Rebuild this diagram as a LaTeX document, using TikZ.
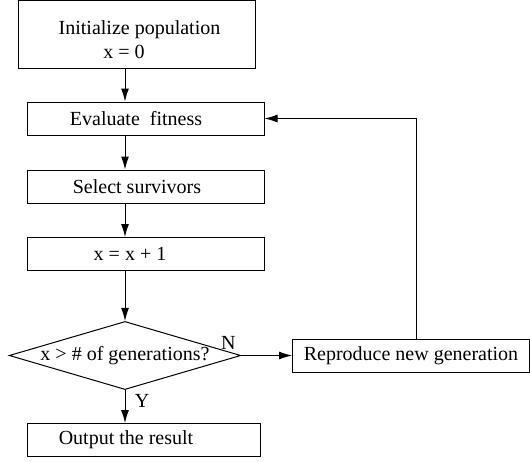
\documentclass[tikz,border=0pt]{standalone}
\usepackage{fontspec}
\setmainfont{Liberation Serif}
\usetikzlibrary{shapes.geometric,arrows.meta}
\begin{document}
\begin{tikzpicture}[x=0.5pt, y=-0.5pt, line width=0.5pt,
        >={Latex[length=6.5pt,width=4pt]},
        stepbox/.style={draw, minimum width=118.5pt, minimum height=16.5pt, inner sep=0pt},
        testbox/.style={draw, diamond, shape aspect=3.4, inner sep=0pt, minimum width=113pt, minimum height=33.5pt}]
    \useasboundingbox (0,0) rectangle (530,461);

    \node[stepbox, minimum height=34pt, align=center] (init) at (136.5,34)
        {\rule{0pt}{13pt}\hspace*{3pt}Initialize population\\x = 0\hspace*{12.5pt}};
    \node[stepbox] (eval) at (145.5,118.5) {Evaluate\ \ fitness\hspace*{9.5pt}};
    \node[stepbox] (sel) at (145.5,186.5) {Select survivors\hspace*{8.5pt}};
    \node[stepbox] (incr) at (145.5,254) {x = x + 1\hspace*{15.5pt}};
    \node[testbox] (dec) at (125,355.5) {x > \# of generations?};
    \node[stepbox] (repro) at (411,355.5) {Reproduce new generation};
    \node[stepbox, minimum width=116.5pt] (out) at (143.5,440) {Output the result\hspace*{17.5pt}};

    \draw[->] (init.south -| dec.north) -- (eval.north -| dec.north);
    \draw[->] (eval.south -| dec.north) -- (sel.north -| dec.north);
    \draw[->] (sel.south -| dec.north) -- (incr.north -| dec.north);
    \draw[->] (incr.south -| dec.north) -- (dec.north);
    \draw[->] (dec.south) -- (out.north -| dec.south);
    \draw[->] (dec.east) -- (repro.west);
    \draw[->] ([xshift=2.5pt]repro.north) |- (eval.east);

    \node (nlab) at ([xshift=-6.5pt,yshift=6.5pt]dec.east) {N};
    \node (ylab) at ([xshift=8.5pt,yshift=-5.5pt]dec.south) {Y};
\end{tikzpicture}
\end{document}
